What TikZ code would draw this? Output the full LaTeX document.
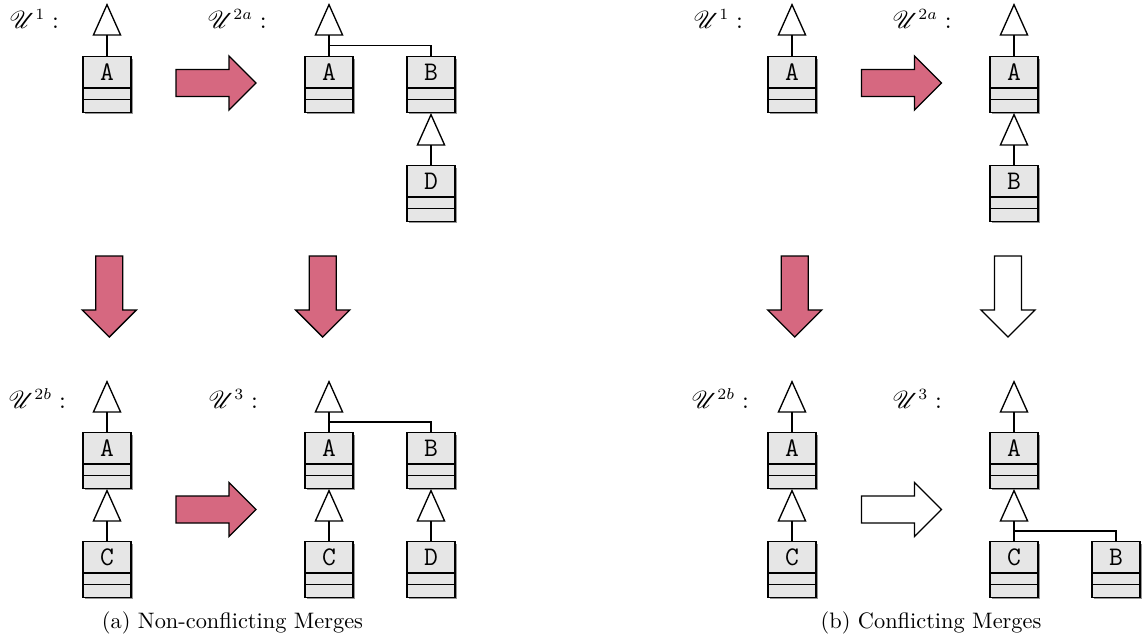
\documentclass[tikz,border=0pt]{standalone}
\usepackage{mathrsfs}
\usetikzlibrary{shadows,arrows.meta}
\definecolor{mergered}{RGB}{214,104,128}
\definecolor{boxgray}{RGB}{230,230,230}
\definecolor{shadowgray}{RGB}{150,150,150}
\tikzset{
 classbox/.style={rectangle, draw, fill=boxgray, line width=0.6pt,
   inner sep=0pt, minimum width=21.47pt, minimum height=24.87pt,
   font=\large\ttfamily, anchor=north,
   drop shadow={shadow xshift=0.9pt, shadow yshift=-0.9pt, fill=shadowgray, opacity=1}},
 divider/.style={line width=0.6pt},
 inh/.style={line width=0.6pt, -{Triangle[open, length=14.6pt, width=12.9pt]}},
 branch/.style={line width=0.6pt},
 ulabel/.style={anchor=base west, inner sep=0pt, font=\fontsize{10.5}{13}\selectfont},
 capstyle/.style={anchor=base, inner sep=0pt},
 fatred/.style={draw, line width=0.6pt, fill=mergered},
 fatwhite/.style={draw, line width=0.6pt, fill=white},
}
% class box: name, x, top y, letter
\newcommand\umlclass[4]{%
  \node[classbox] (#1) at (#2,#3) {\rule[-14.05pt]{0pt}{24.87pt}#4};
  \draw[divider] ([yshift=-14.31pt]#1.north west) -- ([yshift=-14.31pt]#1.north east);
  \draw[divider] ([yshift=-19.59pt]#1.north west) -- ([yshift=-19.59pt]#1.north east);}
\newcommand\rightfat[3]{\path[#3] (#1-40,#2-13.5) -- (#1+13,#2-13.5) -- (#1+13,#2-27) -- (#1+40,#2) -- (#1+13,#2+27) -- (#1+13,#2+13.5) -- (#1-40,#2+13.5) -- cycle;}
\newcommand\downfat[3]{\path[#3] (#1-13.5,#2-40.5) -- (#1+13.5,#2-40.5) -- (#1+13.5,#2+13.5) -- (#1+27,#2+13.5) -- (#1,#2+40.5) -- (#1-27,#2+13.5) -- (#1-13.5,#2+13.5) -- cycle;}
\begin{document}
\begin{tikzpicture}[x=0.4472pt, y=-0.4472pt]
\useasboundingbox (0,0) rectangle (1148,639);

% ---------- (a) U1
\node[ulabel] (la1) at (9,28) {$\mathscr{U}^{1}:$};
\umlclass{a1A}{107}{56}{A}
\coordinate (a1t) at (107,3);
\draw[inh] (a1A.north) -- (a1t);

% ---------- (a) U2a
\node[ulabel] (la2) at (207,28) {$\mathscr{U}^{2a}:$};
\umlclass{a2A}{329}{56}{A}
\umlclass{a2B}{431}{56}{B}
\umlclass{a2D}{431}{165}{D}
\coordinate (a2t) at (329,3);
\coordinate (a2j) at (329,45.5);
\draw[inh] (a2A.north) -- (a2t);
\draw[branch] (a2B.north) |- (a2j);
\draw[inh] (a2D.north) -- (a2B.south);

% ---------- (a) U2b
\node[ulabel] (la3) at (8,408) {$\mathscr{U}^{2b}:$};
\umlclass{a3A}{107}{432}{A}
\umlclass{a3C}{107}{541}{C}
\coordinate (a3t) at (107,380);
\draw[inh] (a3A.north) -- (a3t);
\draw[inh] (a3C.north) -- (a3A.south);

% ---------- (a) U3
\node[ulabel] (la4) at (208,408) {$\mathscr{U}^{3}:$};
\umlclass{a4A}{329}{432}{A}
\umlclass{a4B}{431}{432}{B}
\umlclass{a4C}{329}{541}{C}
\umlclass{a4D}{431}{541}{D}
\coordinate (a4t) at (329,380);
\coordinate (a4j) at (329,422);
\draw[inh] (a4A.north) -- (a4t);
\draw[branch] (a4B.north) |- (a4j);
\draw[inh] (a4C.north) -- (a4A.south);
\draw[inh] (a4D.north) -- (a4B.south);

% ---------- (b) U1
\node[ulabel] (lb1) at (693,28) {$\mathscr{U}^{1}:$};
\umlclass{b1A}{792}{56}{A}
\coordinate (b1t) at (792,3);
\draw[inh] (b1A.north) -- (b1t);

% ---------- (b) U2a
\node[ulabel] (lb2) at (892,28) {$\mathscr{U}^{2a}:$};
\umlclass{b2A}{1014}{56}{A}
\umlclass{b2B}{1014}{165}{B}
\coordinate (b2t) at (1014,3);
\draw[inh] (b2A.north) -- (b2t);
\draw[inh] (b2B.north) -- (b2A.south);

% ---------- (b) U2b
\node[ulabel] (lb3) at (691,408) {$\mathscr{U}^{2b}:$};
\umlclass{b3A}{792}{432}{A}
\umlclass{b3C}{792}{541}{C}
\coordinate (b3t) at (792,380);
\draw[inh] (b3A.north) -- (b3t);
\draw[inh] (b3C.north) -- (b3A.south);

% ---------- (b) U3
\node[ulabel] (lb4) at (892,408) {$\mathscr{U}^{3}:$};
\umlclass{b4A}{1014}{432}{A}
\umlclass{b4C}{1014}{541}{C}
\umlclass{b4B}{1116}{541}{B}
\coordinate (b4t) at (1014,380);
\coordinate (b4j) at (1014,531);
\draw[inh] (b4A.north) -- (b4t);
\draw[inh] (b4C.north) -- (b4A.south);
\draw[branch] (b4B.north) |- (b4j);

% ---------- merge arrows
\rightfat{216}{83}{fatred}
\rightfat{216}{509.5}{fatred}
\rightfat{901.5}{83}{fatred}
\rightfat{901.5}{509.5}{fatwhite}
\downfat{109.3}{296.5}{fatred}
\downfat{322.7}{296.5}{fatred}
\downfat{794.7}{296.5}{fatred}
\downfat{1008}{296.5}{fatwhite}

% ---------- captions
\node[capstyle] (capa) at (232.5,628) {(a) Non-conflicting Merges};
\node[capstyle] (capb) at (931,628) {(b) Conflicting Merges};
\end{tikzpicture}
\end{document}
